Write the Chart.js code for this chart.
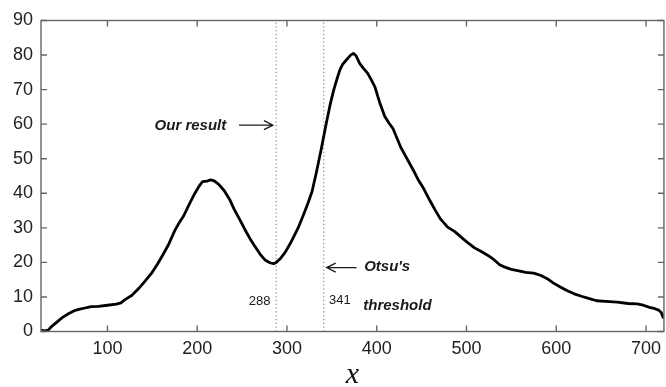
<!DOCTYPE html>
<html><head><meta charset="utf-8">
<script src="https://cdn.jsdelivr.net/npm/chart.js@4.4.0/dist/chart.umd.min.js"></script>
<style>
html,body{margin:0;padding:0;background:#fff;overflow:hidden;width:666px;height:387px}
#wrap{width:668px;height:387px}
</style>
</head><body><div id="wrap"><canvas id="c" width="668" height="387"></canvas></div>
<script>
// ---- data ----
const xValues = [27,30,34,38,44,50,57,63,68,75,82,90,100,110,115,120,127,134,141,149,156,162,168,175,180,185,190,197,202,206,211,215,219,224,230,236,241,247,253,259,265,270,276,281,285,288,292,298,304,309,313,318,323,328,333,338,344,348,352,356,359,362,365,368,371,374,377,381,385,390,394,398,403,409,414,418,427,435,441,446,452,458,465,471,479,487,494,501,509,516,524,531,537,542,550,557,566,575,583,590,597,605,613,620,628,636,645,655,668,680,690,697,704,710,714,717,719];
const yValues = [0.3,0.2,0.4,1.5,2.8,4.1,5.2,6.0,6.4,6.8,7.2,7.3,7.6,7.9,8.3,9.3,10.4,12.2,14.3,16.8,19.6,22.3,25.1,29.2,31.5,33.5,36.2,39.8,42.0,43.4,43.5,43.9,43.6,42.6,40.8,38.3,35.5,32.6,29.6,26.8,24.4,22.4,20.6,19.9,19.6,20.0,20.9,22.9,25.6,28.2,30.3,33.5,36.8,40.5,46.3,52.5,60.5,65.5,69.8,73.3,75.7,77.3,78.2,79.1,80.0,80.5,79.8,77.6,76.2,74.7,72.8,70.8,66.5,62.2,60.2,58.8,53.2,49.4,46.6,44.0,41.5,38.5,35.2,32.6,30.2,28.9,27.3,25.8,24.2,23.2,22.0,20.7,19.3,18.7,18.0,17.6,17.1,16.9,16.2,15.3,14.0,12.8,11.7,10.9,10.2,9.6,8.9,8.7,8.5,8.1,8.0,7.6,7.0,6.6,6.2,5.5,4.1];
const xTickLabels = [100,200,300,400,500,600,700];
const yTickLabels = [0,10,20,30,40,50,60,70,80,90];
const thresholds = [288,341];
const thresholdLabels = ['288','341'];
const noteTexts = ['Our result','Otsu\'s','threshold'];
const xTitle = 'x';

// annotation anchors (data coordinates)
const notes = [
  {text: noteTexts[0], x: 232.4, y: 59.5, align: 'right', font: 'italic bold 15px "Liberation Sans", Arial, sans-serif'},
  {text: noteTexts[1], x: 386, y: 18.6, align: 'left', font: 'italic bold 15px "Liberation Sans", Arial, sans-serif'},
  {text: noteTexts[2], x: 385, y: 7.3, align: 'left', font: 'italic bold 15px "Liberation Sans", Arial, sans-serif'},
  {text: thresholdLabels[0], x: 281.6, y: 8.8, align: 'right', font: '13px "Liberation Sans", Arial, sans-serif'},
  {text: thresholdLabels[1], x: 346.9, y: 9.1, align: 'left', font: '13px "Liberation Sans", Arial, sans-serif'}
];
const arrows = [
  {x0: 246.5, x1: 284.4, y: 59.7},
  {x0: 377.5, x1: 344.3, y: 18.5}
];

const datasets = [{
  data: xValues.map((x, i) => ({x: x, y: yValues[i]})),
  borderColor: '#000', borderWidth: 2.8, pointRadius: 0, tension: 0, fill: false,
  borderJoinStyle: 'round', borderCapStyle: 'round'
}];
thresholds.forEach(t => datasets.push({
  data: [{x: t, y: 0}, {x: t, y: 90}],
  borderColor: '#6f6f6f', borderWidth: 1, borderDash: [1.2, 2.6], pointRadius: 0, fill: false
}));

const decor = {
  id: 'decor',
  afterDraw(chart) {
    const ctx = chart.ctx;
    const a = chart.chartArea;
    const xs = chart.scales.x, ys = chart.scales.y;
    ctx.save();
    ctx.strokeStyle = '#666';
    ctx.lineWidth = 1.4;
    ctx.strokeRect(a.left, a.top, a.right - a.left, a.bottom - a.top);
    ctx.beginPath();
    xs.ticks.forEach(t => {
      const p = xs.getPixelForValue(t.value);
      ctx.moveTo(p, a.bottom); ctx.lineTo(p, a.bottom - 6);
      ctx.moveTo(p, a.top); ctx.lineTo(p, a.top + 6);
    });
    ys.ticks.forEach(t => {
      const p = ys.getPixelForValue(t.value);
      ctx.moveTo(a.left, p); ctx.lineTo(a.left + 6, p);
      ctx.moveTo(a.right, p); ctx.lineTo(a.right - 6, p);
    });
    ctx.stroke();

    ctx.fillStyle = '#1a1a1a';
    ctx.textBaseline = 'middle';
    notes.forEach(n => {
      ctx.font = n.font;
      ctx.textAlign = n.align;
      ctx.fillText(n.text, xs.getPixelForValue(n.x), ys.getPixelForValue(n.y));
    });
    ctx.strokeStyle = '#1a1a1a';
    ctx.lineWidth = 1.3;
    arrows.forEach(r => {
      const p0 = xs.getPixelForValue(r.x0), p1 = xs.getPixelForValue(r.x1), py = ys.getPixelForValue(r.y);
      const d = p1 > p0 ? 1 : -1;
      ctx.beginPath();
      ctx.moveTo(p0, py); ctx.lineTo(p1, py);
      ctx.moveTo(p1 - d * 9, py - 4.5); ctx.lineTo(p1, py); ctx.lineTo(p1 - d * 9, py + 4.5);
      ctx.stroke();
    });
    ctx.restore();
  }
};

new Chart(document.getElementById('c'), {
  type: 'line',
  data: {datasets: datasets},
  plugins: [decor],
  options: {
    responsive: false,
    animation: false,
    layout: {padding: {top: 20.5, left: 0, right: 0, bottom: 0}, autoPadding: false},
    plugins: {legend: {display: false}, tooltip: {enabled: false}},
    scales: {
      x: {
        type: 'linear', min: 26, max: 720,
        afterBuildTicks: s => { s.ticks = xTickLabels.map(v => ({value: v})); },
        afterFit: s => { s.height = 55.5; },
        grid: {display: false, drawTicks: false},
        border: {display: false},
        ticks: {color: '#222', padding: 7, maxRotation: 0, autoSkip: false,
                font: {family: '"Liberation Sans", Arial, sans-serif', size: 18}},
        title: {display: true, text: xTitle, color: '#111', padding: {top: 0, bottom: 0},
                font: {family: '"Liberation Serif", "DejaVu Serif", serif', style: 'italic', size: 30, lineHeight: 0.8}}
      },
      y: {
        type: 'linear', min: 0, max: 90,
        afterBuildTicks: s => { s.ticks = yTickLabels.map(v => ({value: v})); },
        afterFit: s => { s.width = 41; },
        grid: {display: false, drawTicks: false},
        border: {display: false},
        ticks: {color: '#222', padding: 8, autoSkip: false,
                font: {family: '"Liberation Sans", Arial, sans-serif', size: 18}}
      }
    }
  }
});
</script>
</body></html>
